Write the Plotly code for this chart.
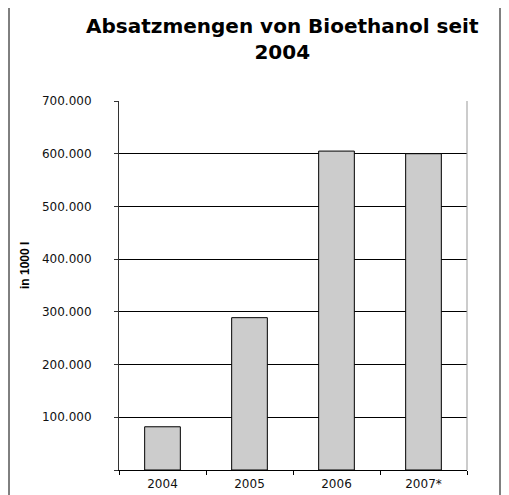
import plotly.graph_objects as go

years = ["2004", "2005", "2006", "2007*"]
sales = [82000, 289000, 605000, 600000]
y_ticks = [0, 100000, 200000, 300000, 400000, 500000, 600000, 700000]
y_ticktext = ["", "100.000", "200.000", "300.000", "400.000", "500.000", "600.000", "700.000"]

# page body has an 8px margin, so the figure starts at (8, 8) in the window
OFF = 8
W, H = 509, 495
L, T = 119 - OFF, 101 - OFF
R = W - (467 - OFF)
B = H - (470 - OFF)
pw, ph = W - L - R, H - T - B

def px_x(x):
    return (x - OFF - L) / pw

def px_y(y):
    return (H - B - (y - OFF)) / ph

fig = go.Figure(go.Bar(
    x=years, y=sales,
    marker=dict(color="#cccccc", line=dict(color="#000000", width=1)),
))

fig.update_layout(
    width=W, height=H,
    margin=dict(l=L, r=R, t=T, b=B, autoexpand=False),
    paper_bgcolor="white", plot_bgcolor="white",
    bargap=0.59,
    showlegend=False,
    font=dict(family="DejaVu Sans", size=12, color="#000000"),
)

fig.update_xaxes(
    type="category",
    showline=True, linecolor="#000000", linewidth=1,
    ticks="outside", tickson="boundaries", ticklen=4, tickcolor="#000000",
    showgrid=False,
    tickfont=dict(family="DejaVu Sans", size=12, color="#111111"),
    ticklabelstandoff=3,
)
fig.update_yaxes(
    range=[0, 700000],
    tickvals=y_ticks, ticktext=y_ticktext,
    showline=True, linecolor="#333333", linewidth=1,
    ticks="outside", ticklen=4, tickcolor="#333333",
    showgrid=True, gridcolor="#000000", gridwidth=1,
    zeroline=False,
    tickfont=dict(family="DejaVu Sans", size=12, color="#111111"),
    ticklabelstandoff=20,
)

# right plot edge
fig.add_shape(type="line", xref="paper", yref="paper", x0=1, x1=1, y0=0, y1=1,
              line=dict(color="#999999", width=1))
# outer chart border
fig.add_shape(type="rect", xref="paper", yref="paper",
              x0=px_x(9), x1=px_x(500), y0=px_y(H + 20), y1=px_y(6),
              line=dict(color="#000000", width=1), layer="below")

fig.add_annotation(
    text="Absatzmengen von Bioethanol seit<br>2004",
    xref="paper", yref="paper", x=px_x(282), y=px_y(12),
    xanchor="center", yanchor="top", showarrow=False, align="center",
    font=dict(family="DejaVu Sans", size=20, color="#000000", weight="bold"),
)

fig.add_annotation(
    text="in 1000 l", textangle=-90,
    xref="paper", yref="paper", x=px_x(25), y=px_y(266),
    xanchor="center", yanchor="middle", showarrow=False,
    font=dict(family="Liberation Sans, Arial", size=12, color="#000000", weight="bold"),
)

fig.write_html("out.html")
